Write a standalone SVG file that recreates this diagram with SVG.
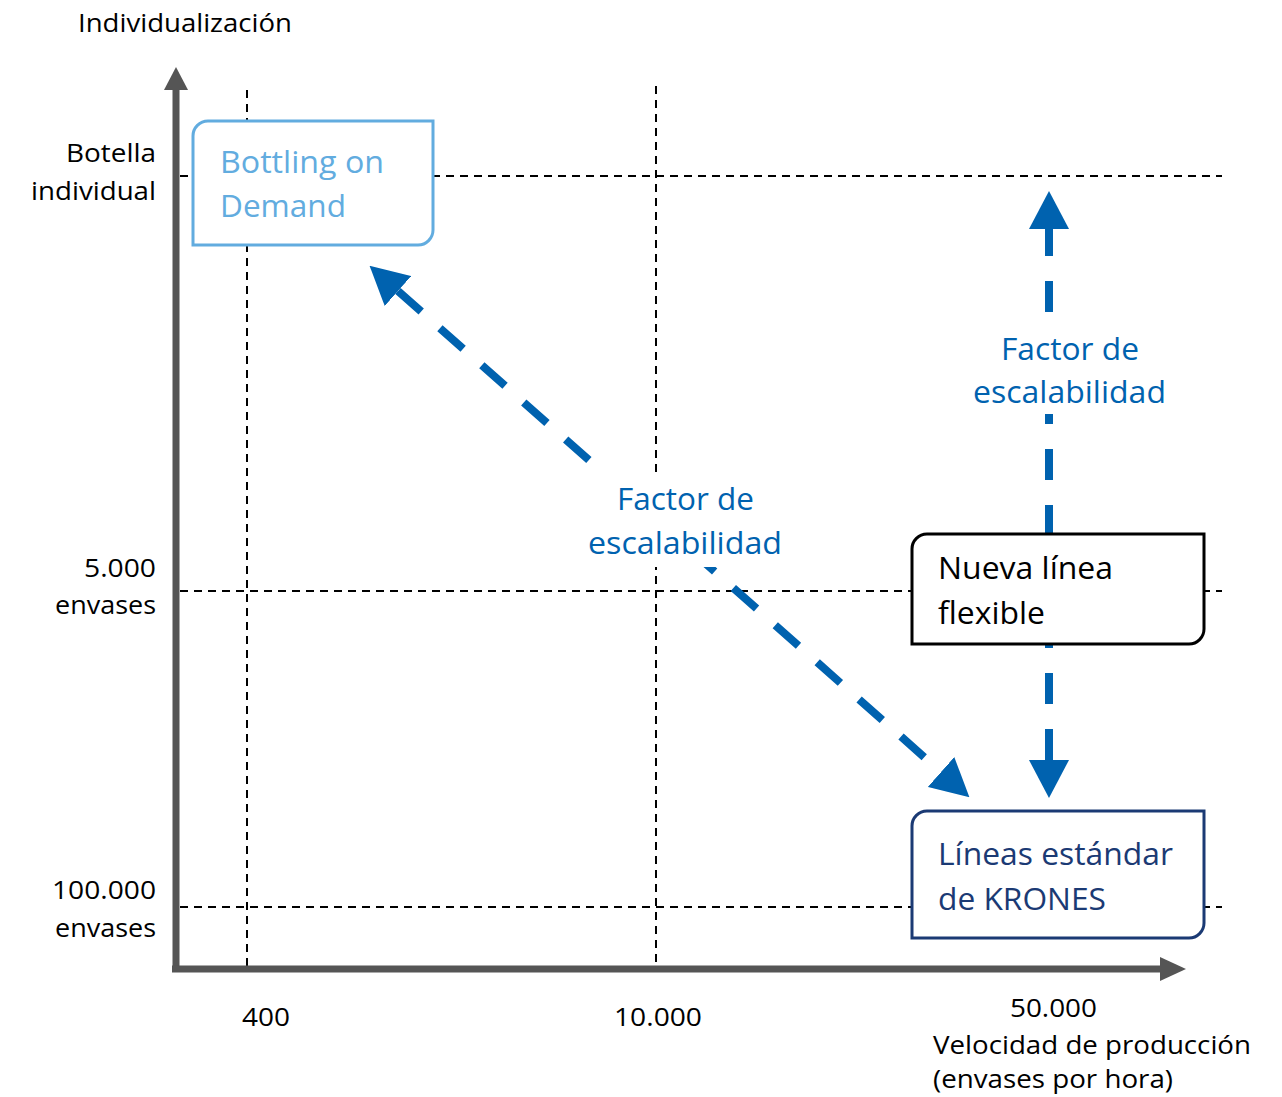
<svg xmlns="http://www.w3.org/2000/svg" width="1282" height="1097" viewBox="0 0 1282 1097">
<style>
text{font-family:"Open Sans","Noto Sans","Liberation Sans",sans-serif}
.ax{font-size:26px;fill:#000}
.bx{font-size:31px}
.grid{stroke:#000;stroke-width:2;stroke-dasharray:8 6;fill:none}
.axis{stroke:#555;stroke-width:7;fill:none}
.arr{stroke:#0062AF;stroke-width:8;fill:none;stroke-dasharray:31 25}
.lbl{font-size:31px;fill:#0062AF}
</style>
<defs>
<marker id="ah" viewBox="0 0 38 40" markerWidth="38" markerHeight="40" refX="0" refY="20" orient="auto-start-reverse" markerUnits="userSpaceOnUse">
<path d="M0,0 L38,20 L0,40 Z" fill="#0062AF"/>
</marker>
</defs>
<rect width="1282" height="1097" fill="#fff"/>

<g id="grid">
<line class="grid" x1="247" y1="90" x2="247" y2="966"/>
<line class="grid" x1="656" y1="86" x2="656" y2="966"/>
<line class="grid" x1="180" y1="176" x2="1222" y2="176"/>
<line class="grid" x1="180" y1="591" x2="1222" y2="591"/>
<line class="grid" x1="180" y1="907" x2="1222" y2="907"/>
</g>

<g id="axes">
<path class="axis" d="M176,972 V88"/>
<path d="M164,90 L176,67 L188,90 Z" fill="#555"/>
<path class="axis" d="M172,969 H1162"/>
<path d="M1160,957 L1186,969 L1160,981 Z" fill="#555"/>
<text class="ax" x="78" y="32" textLength="214" lengthAdjust="spacingAndGlyphs">Individualización</text>
<text class="ax" x="156" y="162" text-anchor="end" textLength="90" lengthAdjust="spacingAndGlyphs">Botella</text>
<text class="ax" x="156" y="200" text-anchor="end" textLength="125" lengthAdjust="spacingAndGlyphs">individual</text>
<text class="ax" x="156" y="577" text-anchor="end" textLength="72" lengthAdjust="spacingAndGlyphs">5.000</text>
<text class="ax" x="156" y="614" text-anchor="end" textLength="101" lengthAdjust="spacingAndGlyphs">envases</text>
<text class="ax" x="156" y="899" text-anchor="end" textLength="104" lengthAdjust="spacingAndGlyphs">100.000</text>
<text class="ax" x="156" y="937" text-anchor="end" textLength="101" lengthAdjust="spacingAndGlyphs">envases</text>
<text class="ax" x="242" y="1026" textLength="48" lengthAdjust="spacingAndGlyphs">400</text>
<text class="ax" x="614" y="1026" textLength="88" lengthAdjust="spacingAndGlyphs">10.000</text>
<text class="ax" x="1010" y="1017" textLength="87" lengthAdjust="spacingAndGlyphs">50.000</text>
<text class="ax" x="933" y="1054" textLength="318" lengthAdjust="spacingAndGlyphs">Velocidad de producción</text>
<text class="ax" x="933" y="1088" textLength="240" lengthAdjust="spacingAndGlyphs">(envases por hora)</text>
</g>

<g id="connectors">
<path class="arr" d="M398,291 L941,772" marker-start="url(#ah)" marker-end="url(#ah)"/>
<path class="arr" d="M1049,760 V229" marker-start="url(#ah)" marker-end="url(#ah)"/>
</g>

<g id="label-diagonal">
<rect x="585" y="472" width="202" height="95" fill="#fff"/>
<text class="lbl" x="617" y="510" textLength="137" lengthAdjust="spacingAndGlyphs">Factor de</text>
<text class="lbl" x="588" y="554" textLength="194" lengthAdjust="spacingAndGlyphs">escalabilidad</text>
</g>

<g id="label-vertical">
<rect x="968" y="315" width="204" height="99" fill="#fff"/>
<text class="lbl" x="1001" y="360" textLength="138" lengthAdjust="spacingAndGlyphs">Factor de</text>
<text class="lbl" x="973" y="403" textLength="193" lengthAdjust="spacingAndGlyphs">escalabilidad</text>
</g>

<g id="node-bottling">
<path d="M193,136 A15,15 0 0 1 208,121 H433 V230 A15,15 0 0 1 418,245 H193 Z" fill="#fff" stroke="#62ACDF" stroke-width="3"/>
<text class="bx" x="220" y="173" fill="#62ACDF" textLength="164" lengthAdjust="spacingAndGlyphs">Bottling on</text>
<text class="bx" x="220" y="217" fill="#62ACDF" textLength="126" lengthAdjust="spacingAndGlyphs">Demand</text>
</g>

<g id="node-nueva">
<path d="M912,549 A15,15 0 0 1 927,534 H1204 V629 A15,15 0 0 1 1189,644 H912 Z" fill="#fff" stroke="#000" stroke-width="3"/>
<text class="bx" x="938" y="579" fill="#000" textLength="175" lengthAdjust="spacingAndGlyphs">Nueva línea</text>
<text class="bx" x="938" y="624" fill="#000" textLength="107" lengthAdjust="spacingAndGlyphs">flexible</text>
</g>

<g id="node-krones">
<path d="M912,826 A15,15 0 0 1 927,811 H1204 V923 A15,15 0 0 1 1189,938 H912 Z" fill="#fff" stroke="#1B3A74" stroke-width="3"/>
<text class="bx" x="938" y="865" fill="#1B3A74" textLength="235" lengthAdjust="spacingAndGlyphs">Líneas estándar</text>
<text class="bx" x="938" y="910" fill="#1B3A74" textLength="168" lengthAdjust="spacingAndGlyphs">de KRONES</text>
</g>
</svg>
